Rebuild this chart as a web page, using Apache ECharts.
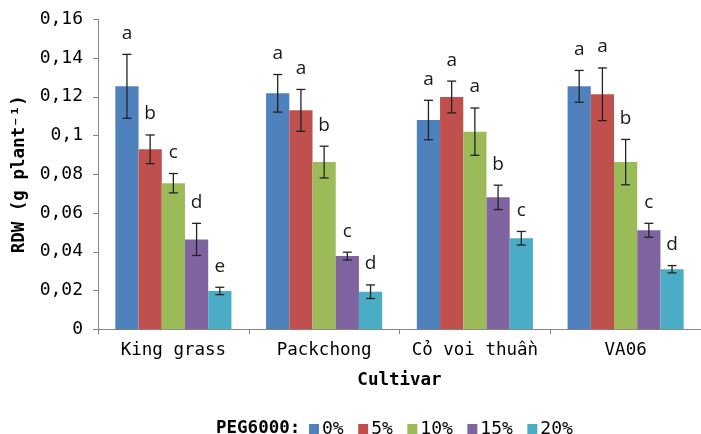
<!DOCTYPE html>
<html>
<head>
<meta charset="utf-8">
<script src="https://cdn.jsdelivr.net/npm/echarts@6/dist/echarts.min.js"></script>
<style>html,body{margin:0;padding:0;background:#fff}#c{width:701px;height:434px}</style>
</head>
<body>
<div id="c"></div>
<script>
var categories = ['King grass', 'Packchong', 'C\u1ECF voi thu\u1EA7n', 'VA06'];
var seriesNames = ['0%', '5%', '10%', '15%', '20%'];
var colors = ['#4F81BD', '#C0504D', '#9BBB59', '#8064A2', '#4BACC6'];
var yTicks = ['0', '0,02', '0,04', '0,06', '0,08', '0,1', '0,12', '0,14', '0,16'];

var v0  = [0.1254, 0.1218, 0.1080, 0.1254];
var v5  = [0.0929, 0.1130, 0.1199, 0.1213];
var v10 = [0.0754, 0.0863, 0.1020, 0.0863];
var v15 = [0.0464, 0.0378, 0.0681, 0.0511];
var v20 = [0.0198, 0.0194, 0.0470, 0.0310];

var e0  = [0.0165, 0.0097, 0.0102, 0.0082];
var e5  = [0.0074, 0.0108, 0.0082, 0.0136];
var e10 = [0.0050, 0.0082, 0.0122, 0.0117];
var e15 = [0.0083, 0.0020, 0.0063, 0.0036];
var e20 = [0.0019, 0.0035, 0.0035, 0.0019];

var l0  = ['a', 'a', 'a', 'a'];
var l5  = ['b', 'a', 'a', 'a'];
var l10 = ['c', 'b', 'a', 'b'];
var l15 = ['d', 'c', 'b', 'c'];
var l20 = ['e', 'd', 'c', 'd'];

var values = [v0, v5, v10, v15, v20];
var errors = [e0, e5, e10, e15, e20];
var letters = [l0, l5, l10, l15, l20];

var BAR_FRAC = 0.154;
var mono = 'DejaVu Sans Mono';

var series = [];
seriesNames.forEach(function (name, i) {
  series.push({
    name: name,
    type: 'bar',
    data: values[i],
    barWidth: (BAR_FRAC * 100) + '%',
    barGap: '0%',
    itemStyle: { color: colors[i] },
    z: 2
  });
});

seriesNames.forEach(function (name, i) {
  var data = values[i].map(function (v, j) { return [j, v, errors[i][j], letters[i][j]]; });
  series.push({
    type: 'custom',
    name: name + '_err',
    data: data,
    z: 5,
    silent: true,
    renderItem: function (params, api) {
      var cat = api.value(0), v = api.value(1), e = api.value(2);
      var band = api.size([1, 0])[0];
      var bw = band * BAR_FRAC;
      var c = api.coord([cat, v]);
      var x = c[0] + (i - 2) * bw;
      var top = api.coord([cat, v + e])[1];
      var bot = api.coord([cat, v - e])[1];
      var cap = 4.5;
      var st = { stroke: '#222', lineWidth: 1.3 };
      return {
        type: 'group',
        children: [
          { type: 'line', shape: { x1: x, y1: top, x2: x, y2: bot }, style: st },
          { type: 'line', shape: { x1: x - cap, y1: top, x2: x + cap, y2: top }, style: st },
          { type: 'line', shape: { x1: x - cap, y1: bot, x2: x + cap, y2: bot }, style: st },
          { type: 'text', style: { text: data[params.dataIndex][3], x: x, y: top - 21,
              textAlign: 'center', textVerticalAlign: 'middle',
              font: '19px "Open Sans", sans-serif', fill: '#1a1a1a' } }
        ]
      };
    }
  });
});

var chart = echarts.init(document.getElementById('c'), null, { renderer: 'canvas' });
chart.setOption({
  animation: false,
  color: colors,
  title: {
    text: 'PEG6000:',
    left: 211, top: 414,
    textStyle: { fontFamily: mono, fontSize: 17.5, fontWeight: 'bold', color: '#000' }
  },
  legend: {
    data: seriesNames,
    left: 304, top: 415,
    icon: 'rect',
    itemWidth: 10, itemHeight: 10,
    itemGap: 14.5,
    textStyle: { fontFamily: mono, fontSize: 18, color: '#000', padding: [0, 0, 0, -2] }
  },
  grid: { left: 98, right: -10, top: 19.3, bottom: 104.7, containLabel: false },
  xAxis: {
    type: 'category',
    data: categories,
    name: 'Cultivar',
    nameLocation: 'middle',
    nameGap: 42,
    nameTextStyle: { fontFamily: mono, fontSize: 17.5, fontWeight: 'bold', color: '#000' },
    axisLine: { lineStyle: { color: '#868686', width: 1 } },
    axisTick: { show: true, length: 5, lineStyle: { color: '#868686' } },
    axisLabel: { fontFamily: mono, fontSize: 17.5, color: '#000', margin: 12, interval: 0 }
  },
  yAxis: {
    type: 'value',
    min: 0, max: 0.16, interval: 0.02,
    name: 'RDW (g plant⁻¹)',
    nameLocation: 'middle',
    nameGap: 66,
    nameTextStyle: { fontFamily: mono, fontSize: 17.5, fontWeight: 'bold', color: '#000' },
    axisLine: { show: true, lineStyle: { color: '#868686', width: 1 } },
    axisTick: { show: true, length: 5, lineStyle: { color: '#868686' } },
    splitLine: { show: false },
    axisLabel: {
      fontFamily: mono, fontSize: 18, color: '#000', margin: 15,
      formatter: function (val) { return yTicks[Math.round(val / 0.02)]; }
    }
  },
  series: series
});
</script>
</body>
</html>
